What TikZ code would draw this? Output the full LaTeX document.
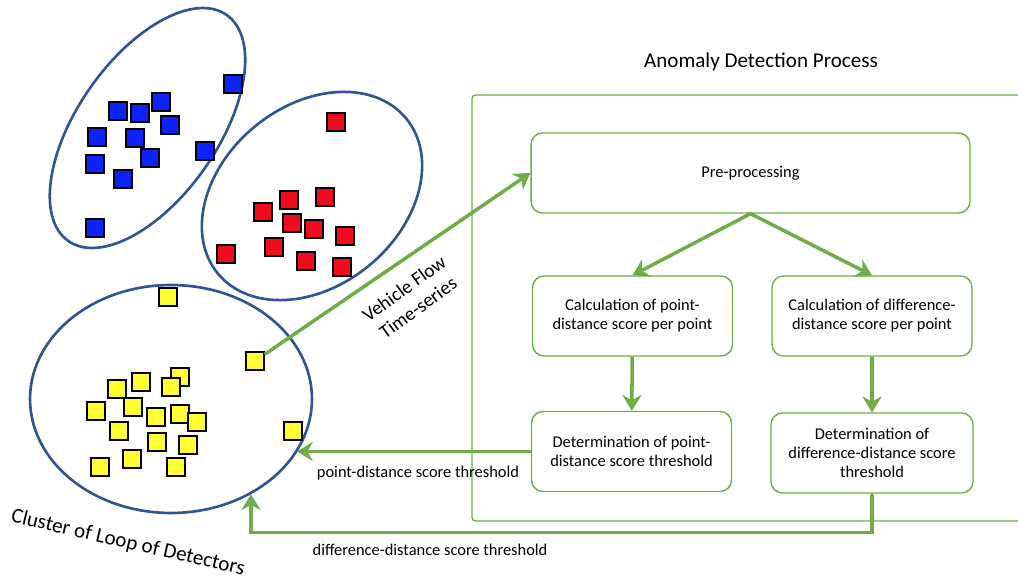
\documentclass[tikz,border=0pt]{standalone}
\usepackage{fontspec}
\setmainfont{Carlito}
\usetikzlibrary{shapes.geometric,arrows.meta}
\definecolor{flowgreen}{RGB}{112,173,71}
\definecolor{setblue}{RGB}{47,85,151}
\definecolor{dotblue}{RGB}{12,36,250}
\definecolor{dotred}{RGB}{240,12,28}
\definecolor{dotyellow}{RGB}{255,255,51}
\tikzset{
  cluster/.style={draw=setblue, line width=1.5pt, ellipse, inner sep=0pt},
  sq/.style={draw=black, line width=0.9pt, minimum size=0.36cm, inner sep=0pt},
  stepbox/.style={draw=flowgreen, line width=0.8pt, rounded corners=6.5pt, align=center,
    font=\fontsize{9.35}{10.8}\selectfont, minimum width=4cm, minimum height=1.6cm, inner sep=0pt},
  flow/.style={draw=flowgreen, line width=2pt, -{Stealth[length=9pt,width=11pt,inset=3pt]}},
  lbl/.style={font=\fontsize{9.35}{10.8}\selectfont, inner sep=0pt}
}

\begin{document}
\begin{tikzpicture}[x=0.02cm, y=-0.02cm]
\useasboundingbox (0,0) rectangle (1018,580);
\node[cluster, minimum width=5.52cm, minimum height=2.8cm, rotate=55] (blueset) at (147.5,128) {};
\node[cluster, minimum width=4.88cm, minimum height=3.6cm, rotate=39.5] (redset) at (312,196) {};
\node[cluster, minimum width=5.64cm, minimum height=4.56cm] (yellowset) at (171,399) {};
\foreach \x/\y [count=\i] in {233/84, 118/111, 140/113, 161/102, 170/125, 97/137,
    135/138, 150/158, 205/151, 95/164, 123/179, 95/228}
  \node[sq, fill=dotblue] (b\i) at (\x,\y) {};
\foreach \x/\y [count=\i] in {336/122, 289/200, 325/197, 263/212, 292/223, 314/229,
    345/236, 226/254, 274/247, 306/261, 342/267}
  \node[sq, fill=dotred] (r\i) at (\x,\y) {};
\foreach \x/\y [count=\i] in {168/297, 255/361, 293/431, 117/389, 141/382, 180/377,
    171/387, 96/411, 133/407, 156/417, 180/414, 197/422, 119/431, 157/442, 188/445,
    132/459, 100/467, 176/467}
  \node[sq, fill=dotyellow] (y\i) at (\x,\y) {};
\node[font=\fontsize{12}{14}\selectfont] (title) at (761,62) {Anomaly Detection Process};
\draw[flowgreen, line width=0.8pt, rounded corners=2pt] (1018,95) -- (472,95) -- (472,521) -- (1018,521);
\node[stepbox, minimum width=8.78cm] (pre) at (750.5,173) {Pre-processing};
\node[stepbox] (calcp) at (632.5,316) {Calculation of point-\\distance score per point};
\node[stepbox] (calcd) at (872,316) {Calculation of difference-\\distance score per point};
\node[stepbox] (detp) at (631.5,451.5) {Determination of point-\\distance score threshold};
\node[stepbox, minimum width=4.04cm] (detd) at (872,453) {Determination of\\difference-distance score\\threshold};
\draw[flow] (y2) -- (pre.west);
\draw[flow] (pre.south) -- (calcp.north);
\draw[flow] (pre.south) -- (calcd.north);
\draw[flow] (calcp) -- (detp);
\draw[flow] (calcd) -- (detd);
\draw[flow] (detp.west) -- (detp.west -| yellowset.-23);
\draw[flow] (detd.south) -- ++(0,39) -| (yellowset.-50);
\node[rotate=36, align=center, font=\fontsize{11}{13.5}\selectfont] (vflow) at (411,298) {Vehicle Flow\\Time-series};
\node[rotate=-13, font=\fontsize{12}{14}\selectfont] (clbl) at (128,543) {Cluster of Loop of Detectors};
\node[lbl] (plbl) at (418,473) {point-distance score threshold};
\node[lbl] (dlbl) at (430,550) {difference-distance score threshold};
\end{tikzpicture}
\end{document}
